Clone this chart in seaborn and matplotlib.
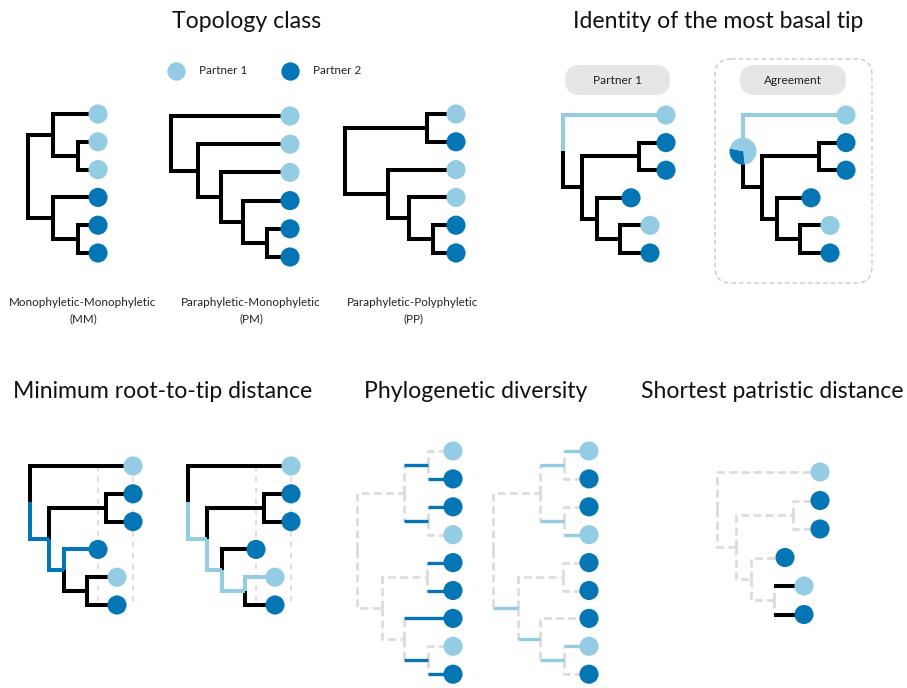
import matplotlib
matplotlib.use("Agg")
import numpy as np
import pandas as pd
import matplotlib.pyplot as plt
import seaborn as sns
from matplotlib.patches import FancyBboxPatch, Wedge

# ---------------- data ----------------
PARTNERS = ["Partner 1", "Partner 2"]
PARTNER_COLORS = ["#94CCE4", "#0475B5"]

# trees in Newick form: tip label "tN-P" (P = partner), internal nodes named
TREE_MM = "((t1-1:45,(t2-1:20,t3-1:20)b:25)a:25,(t4-2:45,(t5-2:20,t6-2:20)d:25)c:25)root;"
TREE_PM = "(t1-1:119,(t2-1:92,(t3-1:69,(t4-2:47,(t5-2:23,t6-2:23)n4:24)n3:22)n2:23)n1:27)root;"
TREE_PP = "((t1-1:29,t2-2:29)a:82,(t3-1:68,(t4-1:47,(t5-2:23,t6-2:23)n3:24)n2:21)n1:43)root;"
TREE_6 = "(t1-1:103,((t2-2:27,t3-2:27)n3:57,(t4-2:34,(t5-1:30,t6-2:30)n5:23)n4:15)n2:19)root;"
TREE_9 = ("(((t1-1:25,t2-2:25)B:24,(t3-2:25,t4-1:25)C:24)A:47,"
          "((t5-2:26,t6-2:26)E:45,(t7-2:49,(t8-1:25,t9-2:25)G:24)F:22)D:25)root;")

TOPOLOGY_LABELS = [["Monophyletic-Monophyletic", "(MM)"],
                   ["Paraphyletic-Monophyletic", "(PM)"],
                   ["Paraphyletic-Polyphyletic", "(PP)"]]
TITLES = ["Topology class", "Identity of the most basal tip",
          "Minimum root-to-tip distance", "Phylogenetic diversity",
          "Shortest patristic distance"]
PILL_LABELS = ["Partner 1", "Agreement"]
PIE_SHARES = [0.30, 0.70]          # Partner 2, Partner 1 at the root (agreement)
MIN_DIST_REFS = ["t4", "t1"]       # reference depth lines in min root-to-tip panel

# highlighted branches per panel
HL_BASAL = ["t1"]
HL_MIN_P2 = ["n2", "n4", "t4"]
HL_MIN_P1 = ["n2", "n4", "n5", "t5"]
HL_PD_P2 = ["t2", "t3", "B", "C", "t5", "t6", "t7", "G", "t9"]
HL_PD_P1 = ["t1", "B", "C", "t4", "D", "F", "G", "t8"]
HL_PAT = ["t5", "t6"]

BLACK = "#000000"
GRAY = "#DCDCDC"
PILL = "#E6E6E6"
LIGHT, DARK = PARTNER_COLORS


# ---------------- helpers ----------------
def parse_newick(s):
    pos = 0

    def node():
        nonlocal pos
        children = []
        if s[pos] == "(":
            pos += 1
            while True:
                children.append(node())
                if s[pos] == ",":
                    pos += 1
                    continue
                if s[pos] == ")":
                    pos += 1
                    break
        start = pos
        while pos < len(s) and s[pos] not in ":,);":
            pos += 1
        label = s[start:pos]
        length = 0.0
        if pos < len(s) and s[pos] == ":":
            pos += 1
            start = pos
            while pos < len(s) and s[pos] not in ",);":
                pos += 1
            length = float(s[start:pos])
        return {"label": label, "length": length, "children": children}

    return node()


def layout(newick, root_x, y0, dy):
    tree = parse_newick(newick)
    rows = []
    counter = [0]

    def walk(n, px):
        x = px + n["length"]
        if not n["children"]:
            y = y0 + counter[0] * dy
            counter[0] += 1
        else:
            ys = [walk(c, x) for c in n["children"]]
            y = (ys[0] + ys[-1]) / 2.0
        n["x"], n["y"] = x, y
        return y

    walk(tree, root_x - tree["length"])

    def collect(n, parent):
        name, _, part = n["label"].partition("-")
        if parent is not None:
            rows.append(dict(name=name, partner=int(part) if part else 0,
                             px=parent["x"], py=parent["y"], x=n["x"], y=n["y"],
                             tip=not n["children"]))
        for c in n["children"]:
            collect(c, n)

    collect(tree, None)
    return tree, pd.DataFrame(rows)


# ---------------- figure ----------------
sns.set_theme(style="white")
plt.rcParams["font.family"] = ["Lato", "DejaVu Sans"]

W, H = 907, 688
fig = plt.figure(figsize=(W / 100, H / 100), dpi=100)
ax = fig.add_axes([0, 0, 1, 1])
ax.set_xlim(0, W)
ax.set_ylim(H, 0)
ax.set_aspect("equal")
ax.axis("off")

LW_SOLID = 2.9
LW_DASH = 2.0
DASH = (0, (2.8, 1.6))

panels = [
    dict(tree=TREE_MM, rx=28, y0=114, dy=27.8, base="solid"),
    dict(tree=TREE_PM, rx=171, y0=116, dy=28.2, base="solid"),
    dict(tree=TREE_PP, rx=345, y0=114, dy=27.8, base="solid"),
    dict(tree=TREE_6, rx=563, y0=115, dy=27.6, base="solid", hl=HL_BASAL, hc=LIGHT, hv=True),
    dict(tree=TREE_6, rx=743, y0=115, dy=27.6, base="solid", hl=HL_BASAL, hc=LIGHT, hv=True, pie=True),
    dict(tree=TREE_6, rx=30, y0=466, dy=27.8, base="solid", hl=HL_MIN_P2, hc=DARK, hv=True, refs=True),
    dict(tree=TREE_6, rx=188, y0=466, dy=27.8, base="solid", hl=HL_MIN_P1, hc=LIGHT, hv=True, refs=True),
    dict(tree=TREE_9, rx=357, y0=451, dy=27.9, base="dashed", hl=HL_PD_P2, hc=DARK, hv=False, hlw=2.4),
    dict(tree=TREE_9, rx=493, y0=451, dy=27.9, base="dashed", hl=HL_PD_P1, hc=LIGHT, hv=False, hlw=2.4),
    dict(tree=TREE_6, rx=717, y0=472, dy=28.5, base="dashed", hl=HL_PAT, hc=BLACK, hv=False),
]

all_tips = []
for p in panels:
    root, df = layout(p["tree"], p["rx"], p["y0"], p["dy"])
    hl = set(p.get("hl", []))
    hc = p.get("hc", BLACK)
    hlw = p.get("hlw", LW_SOLID)
    if p["base"] == "solid":
        bstyle = dict(color=BLACK, lw=LW_SOLID, ls="-", zorder=3)
    else:
        bstyle = dict(color=GRAY, lw=LW_DASH, ls=DASH, zorder=2)
    hstyle = dict(color=hc, lw=hlw, ls="-", zorder=4)

    if p.get("refs"):
        tips = df[df.tip]
        for nm in MIN_DIST_REFS:
            xr = tips.loc[tips.name == nm, "x"].iloc[0]
            ax.plot([xr, xr], [tips.y.min(), tips.y.max()], color=GRAY,
                    lw=1.3, ls=(0, (3, 3)), zorder=1, solid_capstyle="butt")

    for _, r in df.iterrows():
        is_hl = r["name"] in hl
        vert = [(r.px, r.py), (r.px, r.y)]
        horiz = [(r.px, r.y), (r.x, r.y)]
        if is_hl and p.get("hv", True):
            xs, ys = zip(*[vert[0], vert[1], horiz[1]])
            ax.plot(xs, ys, solid_capstyle="butt", solid_joinstyle="miter", **hstyle)
        elif is_hl:
            ax.plot(*zip(*vert), solid_capstyle="butt", dash_capstyle="butt", **bstyle)
            ax.plot(*zip(*horiz), solid_capstyle="butt", **hstyle)
        else:
            xs, ys = zip(*[vert[0], vert[1], horiz[1]])
            ax.plot(xs, ys, solid_capstyle="butt", solid_joinstyle="miter",
                    dash_capstyle="butt", **bstyle)

    tipdf = df[df.tip].copy()
    tipdf["Partner"] = tipdf.partner.map(lambda k: PARTNERS[k - 1])
    all_tips.append(tipdf)

    if p.get("pie"):
        cx, cy, rr = root["x"], root["y"], 13.5
        start = 168.0
        span2 = PIE_SHARES[0] * 360.0
        # y axis inverted -> data angle = -screen angle
        ax.add_patch(Wedge((cx, cy), rr, -(start + span2), -start, color=DARK, lw=0, zorder=6))
        ax.add_patch(Wedge((cx, cy), rr, -start, -(start + span2) + 360, color=LIGHT, lw=0, zorder=6))

tips_all = pd.concat(all_tips, ignore_index=True)
S = 190
sns.scatterplot(data=tips_all, x="x", y="y", hue="Partner", hue_order=PARTNERS,
                palette=PARTNER_COLORS, s=S, linewidth=0, legend=False, ax=ax, zorder=5)

# text sizing helpers
renderer = fig.canvas.get_renderer()


def fit_size(s, width, base=10):
    t = ax.text(0, 0, s, fontsize=base)
    w = t.get_window_extent(renderer).width
    t.remove()
    return base * width / w


# legend
leg_fs = fit_size(PARTNERS[0], 48)
leg_x = [176, 290]
for i, lab in enumerate(PARTNERS):
    ax.scatter([leg_x[i]], [71], s=S * 0.92, color=PARTNER_COLORS[i], linewidth=0, zorder=5)
    ax.text(leg_x[i] + 23, 71, lab, fontsize=leg_fs, va="center", ha="left", color="#222222")

# pills and agreement frame
pill_fs = fit_size(PILL_LABELS[1], 58)
ax.add_patch(FancyBboxPatch((715, 59), 157, 224, boxstyle="round,pad=0,rounding_size=16",
                            fc="none", ec="#CFCFCF", lw=1.1, ls=(0, (3, 2)), zorder=0))
for (x0, x1), lab in zip([(565, 670), (740, 846)], PILL_LABELS):
    ax.add_patch(FancyBboxPatch((x0, 65), x1 - x0, 30, boxstyle="round,pad=0,rounding_size=15",
                                fc=PILL, ec="none", zorder=1))
    ax.text((x0 + x1) / 2, 80.5, lab, fontsize=pill_fs, ha="center", va="center",
            color="#222222", zorder=2)

title_fs = fit_size(TITLES[2], 301)
title_pos = [(247, 28), (718.5, 28), (162.5, 398), (476, 398), (772, 398)]
for s, (x, y) in zip(TITLES, title_pos):
    ax.text(x, y, s, fontsize=title_fs, ha="center", va="baseline", color="#111111")

label_fs = fit_size(TOPOLOGY_LABELS[0][0], 146)
for lines, xc in zip(TOPOLOGY_LABELS, [83, 251, 413]):
    ax.text(xc, 302, lines[0], fontsize=label_fs, ha="center", va="center", color="#222222")
    ax.text(xc, 319, lines[1], fontsize=label_fs, ha="center", va="center", color="#222222")

fig.savefig("out.png", dpi=100)
